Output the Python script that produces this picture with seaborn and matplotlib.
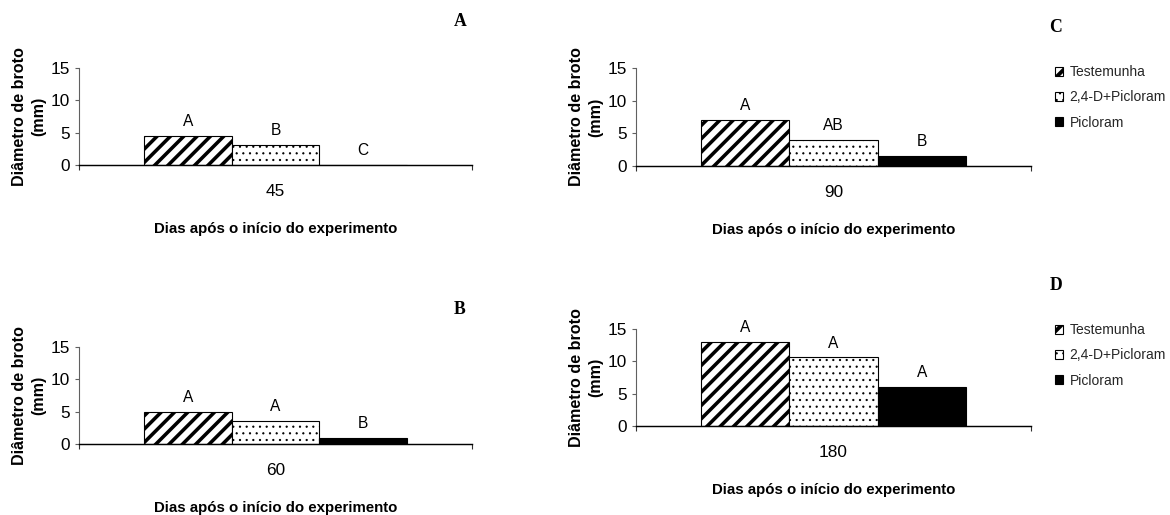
import matplotlib
matplotlib.use("Agg")
import matplotlib.pyplot as plt
from matplotlib.ticker import FixedLocator
import pandas as pd
import seaborn as sns

# Tratamentos e diâmetro médio do broto (mm) em cada época de avaliação
tratamentos = ["Testemunha", "2,4-D+Picloram", "Picloram"]
dias = ["45", "60", "90", "180"]
diam_45 = [4.5, 3.1, 0.0]
diam_60 = [5.0, 3.5, 1.0]
diam_90 = [7.0, 4.0, 1.5]
diam_180 = [13.0, 10.6, 6.0]
# Letras do teste de médias sobre cada barra
letras_45 = ["A", "B", "C"]
letras_60 = ["A", "A", "B"]
letras_90 = ["A", "AB", "B"]
letras_180 = ["A", "A", "A"]
paineis = ["A", "B", "C", "D"]

cores = ["white", "white", "black"]
hachuras = ["//", "..", ""]
hatch_lw = [3.2, 0.8, 0.8]
hatch_lw_legenda = [3.5, 0.8, 0.8]

sns.set_theme(style="white")
plt.rcParams["font.family"] = ["Liberation Sans", "DejaVu Sans"]

DPI = 80
W, H = 1170, 515
fig = plt.figure(figsize=(W / DPI, H / DPI), dpi=DPI)


def px_axes(left, right, top, bottom):
    return fig.add_axes([left / W, 1 - bottom / H, (right - left) / W, (bottom - top) / H])


# (dia, valores, letras, letra do painel, caixa do eixo em px, posição da letra, legenda)
configs = [
    ("45", diam_45, letras_45, "A", (79, 472, 68, 165), (460, 22), False),
    ("60", diam_60, letras_60, "B", (79, 472, 347, 444), (460, 310), False),
    ("90", diam_90, letras_90, "C", (636, 1031, 68, 166), (1056, 27), True),
    ("180", diam_180, letras_180, "D", (636, 1031, 329, 426), (1056, 285), True),
]

for dia, valores, letras, painel, caixa, pos_letra, com_legenda in configs:
    ax = px_axes(*caixa)
    df = pd.DataFrame({"dia": [dia] * len(tratamentos),
                       "tratamento": tratamentos,
                       "diametro": valores})
    sns.barplot(data=df, x="dia", y="diametro", hue="tratamento",
                hue_order=tratamentos, palette=cores, saturation=1,
                width=0.67, edgecolor="black", linewidth=1.0,
                legend=False, ax=ax)

    for cont, hat, hlw in zip(ax.containers, hachuras, hatch_lw):
        for p in cont:
            p.set_hatch(hat)
            if hasattr(p, "set_hatch_linewidth"):
                p.set_hatch_linewidth(hlw)

    # letras acima das barras
    for cont, letra in zip(ax.containers, letras):
        for p in cont:
            ax.annotate(letra, (p.get_x() + p.get_width() / 2, p.get_height()),
                        xytext=(0, 13), textcoords="offset points",
                        ha="center", va="center", fontsize=14, color="black")

    ax.set_xlim(-0.5, 0.5)
    ax.set_ylim(0, 15)
    ax.set_yticks([0, 5, 10, 15])
    ax.xaxis.set_minor_locator(FixedLocator([-0.5, 0.5]))
    ax.tick_params(axis="x", which="major", length=0, pad=17, labelsize=15.5, colors="black")
    ax.tick_params(axis="x", which="minor", length=4.5, width=1.0, color="#303030",
                   direction="out", bottom=True)
    ax.tick_params(axis="y", which="major", length=4, width=1.0, color="#606060",
                   direction="out", left=True, pad=4, labelsize=15.5, labelcolor="black")

    for s in ["top", "right"]:
        ax.spines[s].set_visible(False)
    ax.spines["bottom"].set_color("black")
    ax.spines["bottom"].set_linewidth(1.3)
    ax.spines["left"].set_color("#606060")
    ax.spines["left"].set_linewidth(1.0)
    ax.grid(False)

    ax.set_xlabel("Dias após o início do experimento", fontsize=13.5,
                  fontweight="bold", color="black")
    ax.xaxis.set_label_coords(0.5, -64 / (caixa[3] - caixa[2]))
    ax.xaxis.label.set_va("center")

    ax.set_ylabel("Diâmetro de broto\n(mm)", fontsize=14.5, fontweight="bold",
                  color="black", linespacing=1.35, multialignment="center")
    ax.yaxis.set_label_coords(-50 / (caixa[1] - caixa[0]), 0.5)
    ax.yaxis.label.set_va("center")

    fig.text(pos_letra[0] / W, 1 - pos_letra[1] / H, painel,
             family=["Liberation Serif", "DejaVu Serif"], fontweight="bold",
             fontsize=16, ha="center", va="center", color="black")

    if com_legenda:
        handles = [cont[0] for cont in ax.containers]
        topo = pos_letra[1] + 38
        leg = fig.legend(handles, tratamentos, loc="upper left",
                         bbox_to_anchor=(1055 / W, 1 - topo / H),
                         frameon=False, fontsize=12.5, handlelength=0.6,
                         handleheight=0.6, handletextpad=0.45, labelspacing=0.82,
                         borderpad=0, borderaxespad=0)
        for h, hlw in zip(leg.legend_handles, hatch_lw_legenda):
            if hasattr(h, "set_hatch_linewidth"):
                h.set_hatch_linewidth(hlw)

fig.savefig("out.png", dpi=DPI)
